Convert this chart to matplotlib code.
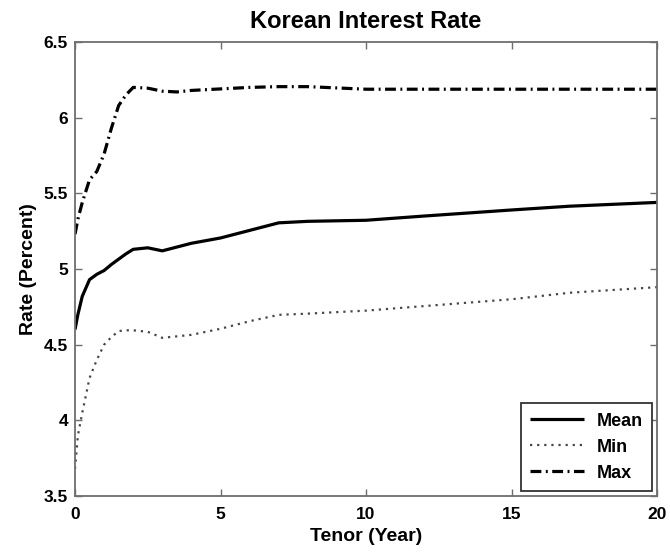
import matplotlib
matplotlib.use("Agg")
import matplotlib.pyplot as plt

# Tenor grid (years) and yield curve statistics (percent)
tenor = [0.0, 0.1, 0.25, 0.5, 0.75, 1.0, 1.25, 1.5, 1.75, 2.0, 2.5, 3.0, 3.5,
         4.0, 5.0, 6.0, 7.0, 8.0, 10.0, 12.0, 15.0, 17.0, 20.0]
rate_mean = [4.60, 4.70, 4.82, 4.93, 4.965, 4.99, 5.03, 5.065, 5.10, 5.13, 5.14,
             5.12, 5.145, 5.17, 5.205, 5.255, 5.305, 5.315, 5.322, 5.35, 5.39,
             5.415, 5.44]
rate_min = [3.68, 3.90, 4.05, 4.28, 4.40, 4.50, 4.55, 4.59, 4.595, 4.595, 4.585,
            4.545, 4.555, 4.565, 4.605, 4.655, 4.697, 4.705, 4.725, 4.755, 4.80,
            4.843, 4.88]
rate_max = [5.23, 5.33, 5.44, 5.59, 5.645, 5.76, 5.93, 6.08, 6.15, 6.20, 6.195,
            6.175, 6.17, 6.18, 6.19, 6.20, 6.205, 6.205, 6.188, 6.188, 6.188,
            6.188, 6.188]

x_ticks = [0, 5, 10, 15, 20]
y_ticks = [3.5, 4, 4.5, 5, 5.5, 6, 6.5]
y_tick_labels = ["3.5", "4", "4.5", "5", "5.5", "6", "6.5"]

plt.rcParams["font.family"] = ["Liberation Sans", "DejaVu Sans"]
plt.rcParams["font.weight"] = "bold"

fig = plt.figure(figsize=(6.7, 5.54), dpi=100)
ax = fig.add_axes([75 / 670, 1 - 496 / 554, (657 - 75) / 670, (496 - 42) / 554])

ax.plot(tenor, rate_mean, color="black", lw=2.3, solid_capstyle="butt", label="Mean")
ax.plot(tenor, rate_min, color="#474747", lw=1.6, linestyle=(0, (1, 2.2)), label="Min")
ax.plot(tenor, rate_max, color="black", lw=2.3, linestyle=(0, (3.4, 1.4, 0.6, 1.4)),
        dash_capstyle="butt", label="Max")

ax.set_xlim(0, 20)
ax.set_ylim(3.5, 6.5)
ax.set_xticks(x_ticks)
ax.set_xticklabels([str(t) for t in x_ticks])
ax.set_yticks(y_ticks)
ax.set_yticklabels(y_tick_labels)

for s in ax.spines.values():
    s.set_color("#6e6e6e")
    s.set_linewidth(1.3)
ax.tick_params(direction="in", length=5, width=1.0, color="#6e6e6e",
               top=True, right=True, labelsize=12.5)
ax.tick_params(axis="x", pad=8)
ax.tick_params(axis="y", pad=5)

ax.set_title("Korean Interest Rate", fontsize=17, fontweight="bold", pad=10)
ax.set_xlabel("Tenor (Year)", fontsize=14, fontweight="bold", labelpad=4)
ax.set_ylabel("Rate (Percent)", fontsize=14, fontweight="bold", labelpad=5)

leg = ax.legend(loc="lower right", fontsize=13, fancybox=False, framealpha=1,
                edgecolor="#333333", borderaxespad=0.3, handlelength=3.0,
                handletextpad=0.7, labelspacing=0.5, borderpad=0.5)
leg.get_frame().set_linewidth(1.3)

fig.savefig("out.png", dpi=100)
